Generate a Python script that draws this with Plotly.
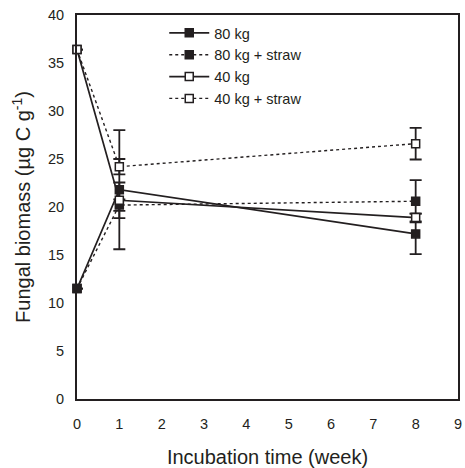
import plotly.graph_objects as go

weeks = [0, 1, 8]
series_names = ["80 kg", "80 kg + straw", "40 kg", "40 kg + straw"]
kg80 = [11.5, 21.8, 17.2]
kg80_err = [0, 6.2, 2.1]
kg80_straw = [11.5, 20.2, 20.6]
kg80_straw_err = [0, 0.6, 2.2]
kg40 = [36.4, 20.7, 18.9]
kg40_err = [0, 1.85, 0.4]
kg40_straw = [36.4, 24.2, 26.6]
kg40_straw_err = [0, 0.8, 1.65]

x_ticks = list(range(0, 10))
y_ticks = list(range(0, 45, 5))

ink = "#231f20"
fig = go.Figure()

specs = [
    (series_names[0], kg80, kg80_err, "solid", "square", ink),
    (series_names[1], kg80_straw, kg80_straw_err, "dot", "square", ink),
    (series_names[2], kg40, kg40_err, "solid", "square", "white"),
    (series_names[3], kg40_straw, kg40_straw_err, "dot", "square", "white"),
]
for name, ys, errs, dash, sym, fill in specs:
    fig.add_trace(go.Scatter(
        x=weeks, y=ys, name=name, mode="lines+markers",
        line=dict(color=ink, width=1.7 if dash == "solid" else 1.4, dash=dash),
        marker=dict(symbol=sym, size=8, color=fill, line=dict(color=ink, width=1.5)),
        error_y=dict(type="data", array=errs, visible=True, color=ink, thickness=1.8, width=6),
        cliponaxis=False,
    ))

fig.update_layout(
    width=465, height=468,
    margin=dict(l=77, r=7, t=15, b=69, autoexpand=False),
    paper_bgcolor="white", plot_bgcolor="white",
    font=dict(family="Liberation Sans, Arial, sans-serif", color=ink, size=14.5),
    showlegend=True,
    legend=dict(x=0.229, y=0.995, xanchor="left", yanchor="top",
                bgcolor="rgba(0,0,0,0)", font=dict(size=14.5),
                tracegroupgap=0, itemwidth=40),
    xaxis=dict(range=[0, 9], tickvals=x_ticks, showgrid=False, zeroline=False,
               showline=True, linecolor=ink, linewidth=2, mirror=True,
               ticks="", ticklen=0, ticklabelstandoff=11, automargin=False,
               tickfont=dict(size=14.5),
               title=dict(text="Incubation time (week)", font=dict(size=20), standoff=20)),
    yaxis=dict(range=[0, 40], tickvals=y_ticks, showgrid=False, zeroline=False,
               showline=True, linecolor=ink, linewidth=2, mirror=True,
               ticks="", ticklen=0, ticklabelstandoff=8, automargin=False,
               tickfont=dict(size=14.5),
               title=dict(text="Fungal biomass (µg C g<sup>-1</sup>)", font=dict(size=20), standoff=12)),
)

fig.write_html("out.html", config={"displayModeBar": False},
               post_script="document.body.style.margin='0';document.body.style.padding='0';")
